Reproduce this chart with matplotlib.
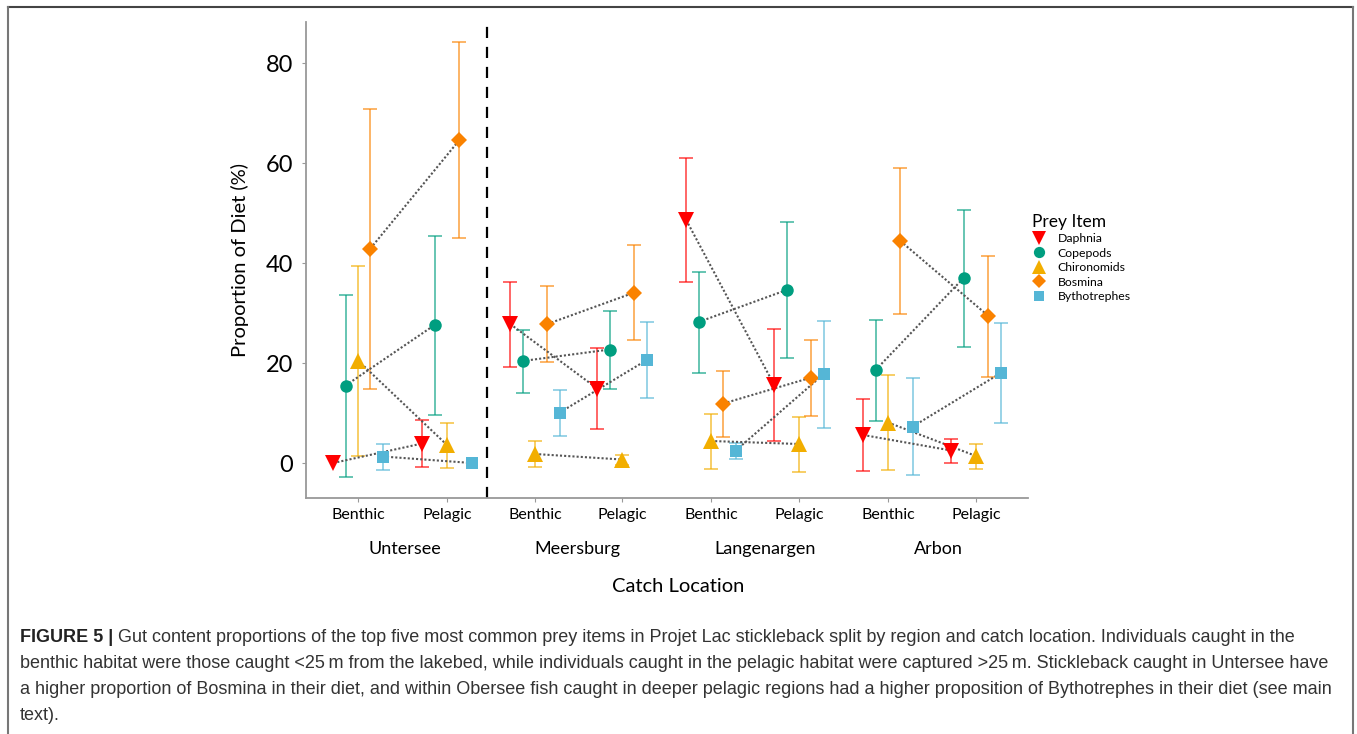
import numpy as np
import matplotlib
matplotlib.use("Agg")
import matplotlib.pyplot as plt
from matplotlib.lines import Line2D

plt.rcParams['font.family'] = ['Lato', 'DejaVu Sans']

# data: mean and +/- error per prey item, 8 groups
regions = ["Untersee", "Meersburg", "Langenargen", "Arbon"]
habitats = ["Benthic", "Pelagic"]
prey = ["Daphnia", "Copepods", "Chironomids", "Bosmina", "Bythotrephes"]

# order of groups: Unt-B, Unt-P, Meer-B, Meer-P, Lang-B, Lang-P, Arb-B, Arb-P
daphnia = [0.0, 3.9, 27.8, 14.9, 48.6, 15.6, 5.6, 2.5]
daphnia_err = [0.0, 4.7, 8.5, 8.1, 12.4, 11.2, 7.2, 2.4]
copepods = [15.5, 27.6, 20.4, 22.7, 28.2, 34.6, 18.6, 37.0]
copepods_err = [18.2, 17.9, 6.3, 7.8, 10.1, 13.6, 10.1, 13.7]
chironomids = [20.5, 3.6, 1.8, 0.7, 4.4, 3.8, 8.1, 1.4]
chironomids_err = [19.0, 4.5, 2.6, 1.0, 5.5, 5.5, 9.5, 2.5]
bosmina = [42.9, 64.6, 27.8, 34.1, 11.9, 17.1, 44.4, 29.4]
bosmina_err = [28.0, 19.6, 7.6, 9.5, 6.6, 7.6, 14.6, 12.1]
bytho = [1.3, 0.0, 10.1, 20.6, 2.5, 17.8, 7.3, 18.0]
bytho_err = [2.6, 0.0, 4.6, 7.6, 1.6, 10.7, 9.7, 10.0]

means = [daphnia, copepods, chironomids, bosmina, bytho]
errs = [daphnia_err, copepods_err, chironomids_err, bosmina_err, bytho_err]

colors = ["#FF0000", "#009E80", "#F2AE00", "#FA8200", "#55B6D6"]
markers = ["v", "o", "^", "D", "s"]
msizes = [11, 9, 11, 8, 8.5]

# layout (x in pixel-like units along the axis)
centers = [358, 447, 535, 622, 711, 799, 888, 976]
region_x = [405, 577, 765, 938]
dodge = 12.4

W, H = 1357, 734
fig = plt.figure(figsize=(W / 100, H / 100), dpi=100)
ax = fig.add_axes([306 / W, (H - 498) / H, (1028 - 306) / W, (498 - 22) / H])

for k in range(5):
    xs = [c + (k - 2) * dodge for c in centers]
    m = means[k]
    e = errs[k]
    for g in range(8):
        if e[g] > 0:
            ax.errorbar(xs[g], m[g], yerr=e[g], fmt='none', ecolor=colors[k],
                        alpha=0.6, elinewidth=1.4, capsize=5, capthick=1.4, zorder=2)
    for r in range(4):
        ax.plot(xs[2 * r:2 * r + 2], m[2 * r:2 * r + 2], linestyle=(0, (1, 1)),
                color="#555555", linewidth=1.5, zorder=3)
    ax.plot(xs, m, linestyle='none', marker=markers[k], markersize=msizes[k],
            color=colors[k], markeredgewidth=0, zorder=4)

ax.axvline(487, color="black", linestyle=(0, (5, 4)), linewidth=1.6)

ax.set_xlim(306, 1028)
ax.set_ylim(-7, 88.2)
ax.set_yticks([0, 20, 40, 60, 80])
ax.set_yticklabels(["0", "20", "40", "60", "80"], fontsize=17)
ax.set_xticks(centers)
ax.set_xticklabels(habitats * 4, fontsize=11.5)
for s in ["top", "right"]:
    ax.spines[s].set_visible(False)
for s in ["left", "bottom"]:
    ax.spines[s].set_color("#999999")
    ax.spines[s].set_linewidth(1.3)
ax.tick_params(axis='both', color="#999999", length=3, pad=6)
ax.tick_params(axis='x', pad=4)
ax.set_ylabel("Proportion of Diet (%)", fontsize=14.5, labelpad=12)

for r in range(4):
    fig.text(region_x[r] / W, 1 - 549 / H, regions[r], fontsize=13,
             ha='center', va='center')
fig.text(678 / W, 1 - 587 / H, "Catch Location", fontsize=14.5,
         ha='center', va='center')

handles = [Line2D([], [], linestyle='none', marker=markers[k], color=colors[k],
                  markersize=msizes[k] * 0.9, markeredgewidth=0) for k in range(5)]
leg = fig.legend(handles, prey, title="Prey Item", loc='upper left',
                 bbox_to_anchor=(1027 / W, 1 - 209 / H), frameon=False,
                 fontsize=8.8, title_fontsize=12.5, handletextpad=0.9,
                 labelspacing=0.28, handlelength=1.2, borderaxespad=0)
leg._legend_box.align = "left"

# outer frame of the figure box
fig.add_artist(Line2D([8 / W, 1353 / W], [1 - 7 / H, 1 - 7 / H], color="#444444", linewidth=1.5))
fig.add_artist(Line2D([8 / W, 8 / W], [0, 1 - 7 / H], color="#777777", linewidth=1.5))
fig.add_artist(Line2D([1353 / W, 1353 / W], [0, 1 - 7 / H], color="#777777", linewidth=1.5))

caption = [
    "Gut content proportions of the top five most common prey items in Projet Lac stickleback split by region and catch location. Individuals caught in the",
    "benthic habitat were those caught <25\u2009m from the lakebed, while individuals caught in the pelagic habitat were captured >25\u2009m. Stickleback caught in Untersee have",
    "a higher proportion of Bosmina in their diet, and within Obersee fish caught in deeper pelagic regions had a higher proposition of Bythotrephes in their diet (see main",
    "text).",
]
cap_font = ['Liberation Sans', 'DejaVu Sans']
t = fig.text(20 / W, 1 - 637 / H, "FIGURE 5 |", fontsize=13, fontweight='bold',
             family=cap_font, ha='left', va='center', color="#222222")
fig.canvas.draw()
bb = t.get_window_extent()
fig.text((bb.x1 + 5) / W, 1 - 637 / H, caption[0], fontsize=13, family=cap_font,
         ha='left', va='center', color="#333333")
for i in range(1, 4):
    fig.text(20 / W, 1 - (637 + 26 * i) / H, caption[i], fontsize=13, family=cap_font,
             ha='left', va='center', color="#333333")

fig.savefig("out.png", dpi=100)
